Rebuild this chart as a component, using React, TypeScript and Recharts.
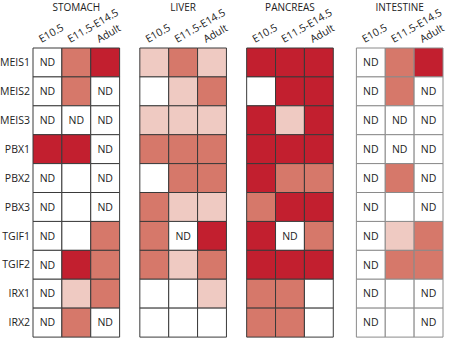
import * as React from 'react';
import { BarChart, Bar, XAxis, YAxis, Cell, LabelList } from 'recharts';

const genes = ['MEIS1', 'MEIS2', 'MEIS3', 'PBX1', 'PBX2', 'PBX3', 'TGIF1', 'TGIF2', 'IRX1', 'IRX2'];
const stages = ['E10.5', 'E11.5-E14.5', 'Adult'];
const organs = ['STOMACH', 'LIVER', 'PANCREAS', 'INTESTINE'];

// -1 = not determined, 0 = none, 1 = low, 2 = medium, 3 = high
const ND = -1;
const stomach = [
    [ND, 2, 3], [ND, 2, ND], [ND, ND, ND], [3, 3, ND], [ND, 0, ND],
    [ND, 0, ND], [ND, 0, 2], [ND, 3, 2], [ND, 1, 2], [ND, 2, ND],
];
const liver = [
    [1, 2, 1], [0, 1, 2], [1, 1, 1], [2, 2, 2], [0, 2, 2],
    [2, 1, 1], [2, ND, 3], [2, 1, 2], [0, 0, 1], [0, 0, 0],
];
const pancreas = [
    [3, 3, 3], [0, 3, 3], [3, 1, 3], [3, 3, 3], [3, 2, 2],
    [2, 3, 3], [3, ND, 2], [3, 3, 3], [2, 2, 0], [2, 2, 0],
];
const intestine = [
    [ND, 2, 3], [ND, 2, ND], [ND, ND, ND], [ND, ND, ND], [ND, 2, ND],
    [ND, 0, ND], [ND, 1, 2], [ND, 2, 2], [ND, 0, ND], [ND, 0, ND],
];

const organLevels = [stomach, liver, pancreas, intestine];
const levelColors = ['#ffffff', '#efcac2', '#d6786a', '#c21f2f'];
const borderColors = ['#3a3a3a', '#3a3a3a', '#3a3a3a', '#8a8a8a'];
const GAPS = [0.7, 0.7, 0.8];

const panelStart: number[] = [];
let acc = 0;
organs.forEach((_, p) => {
    panelStart.push(acc);
    acc += stages.length + (GAPS[p] || 0);
});
const TOTAL = acc;
const colCenters = organs.flatMap((_, p) => stages.map((__, s) => panelStart[p] + s + 0.5));

const data = genes.map((gene, r) => {
    const row: any = { gene };
    organLevels.forEach((lv, p) => {
        stages.forEach((_, s) => {
            row[`v${p}_${s}`] = 1;
            row[`n${p}_${s}`] = lv[r][s] === ND ? 'ND' : '';
        });
        if (p < GAPS.length) row[`gap${p}`] = GAPS[p];
    });
    return row;
});

const StageTick = (props: any) => {
    const { x, index } = props;
    const s = index % 3;
    const p = Math.floor(index / 3);
    return (
        <g>
            <text transform={`translate(${x - 6},${43}) rotate(-30)`} fontSize={10.5} fill="#222" textAnchor="start">
                {stages[s]}
            </text>
            {s === 1 && (
                <text x={x} y={11} fontSize={10} fill="#222" textAnchor="middle">{organs[p]}</text>
            )}
        </g>
    );
};

export default function App() {
    const bars: React.ReactNode[] = [];
    organLevels.forEach((lv, p) => {
        stages.forEach((_, s) => {
            bars.push(
                <Bar key={`b${p}_${s}`} dataKey={`v${p}_${s}`} stackId="a" isAnimationActive={false}>
                    {lv.map((row, r) => (
                        <Cell key={r} fill={row[s] === ND ? '#ffffff' : levelColors[row[s]]} stroke={borderColors[p]} strokeWidth={1} />
                    ))}
                    <LabelList dataKey={`n${p}_${s}`} position="center" fontSize={10.5} fill="#222" />
                </Bar>
            );
        });
        if (p < GAPS.length) {
            bars.push(<Bar key={`g${p}`} dataKey={`gap${p}`} stackId="a" fill="transparent" stroke="none" isAnimationActive={false} />);
        }
    });

    return (
        <div style={{ position: 'absolute', left: 0, top: 0, background: '#fff', fontFamily: '"Open Sans", sans-serif' }}>
            <BarChart
                width={450}
                height={339}
                data={data}
                layout="vertical"
                barCategoryGap={0}
                margin={{ top: 0, right: 7, left: 0, bottom: 2 }}
            >
                <XAxis
                    type="number"
                    orientation="top"
                    domain={[0, TOTAL]}
                    ticks={colCenters}
                    interval={0}
                    height={48}
                    tickLine={false}
                    axisLine={false}
                    tick={<StageTick />}
                />
                <YAxis
                    type="category"
                    dataKey="gene"
                    width={33}
                    tickLine={false}
                    axisLine={false}
                    tickSize={0}
                    tickMargin={3}
                    tick={{ fontSize: 10.5, fill: '#222' }}
                />
                {bars}
            </BarChart>
        </div>
    );
}
